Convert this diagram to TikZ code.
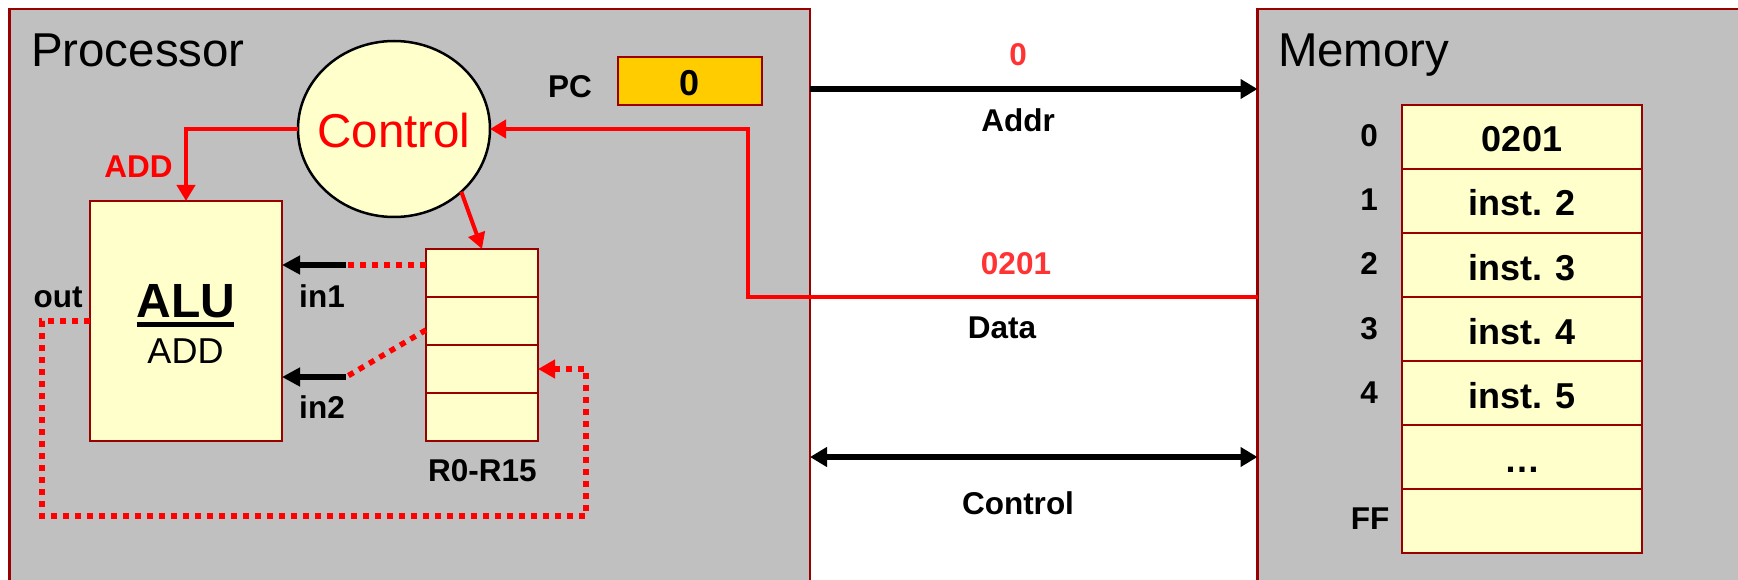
\documentclass[tikz,border=0pt]{standalone}
\usepackage{fontspec}
\setmainfont{Liberation Sans}
\usetikzlibrary{arrows.meta,shapes.geometric}
\definecolor{boxred}{HTML}{990000}
\definecolor{panel}{HTML}{C0C0C0}
\definecolor{cream}{HTML}{FFFFCC}
\definecolor{gold}{HTML}{FFCC00}
\definecolor{softred}{HTML}{FF3333}
\tikzset{
  x=1pt,y=-1pt,
  panelbox/.style={draw=boxred,line width=2.2pt,fill=panel,anchor=north west,inner sep=0,outer sep=0},
  cellbox/.style={draw=boxred,line width=2.7pt,fill=cream,anchor=north west,inner sep=0,outer sep=0},
  label/.style={anchor=base,inner sep=0,outer sep=0},
  big/.style={label,font=\fontsize{47.5}{50}\selectfont},
  mid/.style={label,font=\fontsize{36}{40}\selectfont\bfseries},
  small/.style={label,font=\fontsize{31.5}{34}\selectfont\bfseries},
  redwire/.style={draw=red,line width=4.5pt,-{Triangle[length=16pt,width=18pt]}},
  redwirethin/.style={draw=red,line width=4pt,-{Triangle[length=16pt,width=17pt]}},
  busline/.style={draw=black,line width=6pt},
  dots/.style={draw=red,line width=5.5pt,dash pattern=on 6pt off 6pt},
}
\begin{document}
\begin{tikzpicture}
\useasboundingbox (0,0) rectangle (1738,580);
\clip (0,0) rectangle (1738,580);
% panels
\node[panelbox,minimum width=800.5pt,minimum height=600pt] (proc) at (9.5,9) {};
\node[panelbox,minimum width=500pt,minimum height=600pt] (memp) at (1257.5,9) {};
\node[big] (proct) at (31,67) [anchor=base west] {Processor};
\node[big] (memt) at (1278,67) [anchor=base west] {Memory};
% ALU
\node[cellbox,minimum width=192pt,minimum height=240pt] (alu) at (90,201) {};
\node[big,font=\fontsize{48}{50}\selectfont\bfseries] (alut) at (186,317) {\rlap{\rule[-9.5pt]{97pt}{5pt}}ALU};
\node[label,font=\fontsize{36}{40}\selectfont] (aluop) at (185.5,363) {ADD};
% registers
\node[cellbox,minimum width=112pt,minimum height=48pt] (r1) at (426,249) {};
\node[cellbox,minimum width=112pt,minimum height=48pt] (r2) at (426,297) {};
\node[cellbox,minimum width=112pt,minimum height=48pt] (r3) at (426,345) {};
\node[cellbox,minimum width=112pt,minimum height=48pt] (r4) at (426,393) {};
\node[small] (regt) at (482.5,481.5) {R0-R15};
% control
\node[draw=black,line width=2.5pt,fill=cream,ellipse,minimum width=192pt,minimum height=176pt,inner sep=0,outer sep=0] (ctl) at (394,129) {};
\node[big,text=red] (ctlt) at (394,147.5) {Control};
% PC
\node[cellbox,fill=gold,minimum width=144pt,minimum height=48pt] (pc) at (618,57) {};
\node[mid] (pcv) at (690,96) {0};
\node[small] (pct) at (570,98) {PC};
% small labels
\node[small,text=red] (addt) at (138.5,178) {ADD};
\node[small] (in1t) at (322,307) {in1};
\node[small] (in2t) at (322,418) {in2};
\node[small] (outt) at (58,307) {out};
% memory cells
\foreach \n/\y in {0/105,1/169,2/233,3/297,4/361,5/425,6/489}
  \node[cellbox,minimum width=240pt,minimum height=64pt] (m\n) at (1402,\y) {};
\node[mid] (v0) at (1522,152) {0201};
\node[mid] (v1) at (1522,216) {inst. 2};
\node[mid] (v2) at (1522,280) {inst. 3};
\node[mid] (v3) at (1522,344) {inst. 4};
\node[mid] (v4) at (1522,408) {inst. 5};
\node[mid] (v5) at (1522,472) {…};
\node[small] (a0) at (1369,147) {0};
\node[small] (a1) at (1369,211) {1};
\node[small] (a2) at (1369,275) {2};
\node[small] (a3) at (1369,339) {3};
\node[small] (a4) at (1369,403) {4};
\node[small] (aff) at (1370,529) {FF};
% bus labels
\node[small,text=softred] (b0) at (1018,66) {0};
\node[small] (baddr) at (1018,132) {Addr};
\node[small,text=softred] (b1) at (1016,274) {0201};
\node[small] (bdata) at (1002,338) {Data};
\node[small] (bctl) at (1018,514) {Control};
% junction coordinates
\coordinate (addrL) at (810,89);
\coordinate (ctlL) at (810,457);
\coordinate (dataR) at (1257.5,297);
\coordinate (dataC) at (748,297);
\coordinate (in1j) at (346,265);
\coordinate (in2j) at (346,377);
\coordinate (in2s) at (426,330);
\coordinate (outL) at (42,321);
\coordinate (outB) at (42,516);
\coordinate (outR) at (586,516);
\coordinate (outU) at (586,369);
% wires
\draw[redwire] (ctl.west) -| (alu.north);
\draw[redwirethin] (ctl.-43) -- (r1.north);
\draw[redwire] (dataR) -- (dataC) |- (ctl.east);
% ALU inputs
\draw[dots] (in1j -| r1.west) -- (in1j);
\draw[dots] (in2s) -- (in2j);
\draw[busline,-{Triangle[length=18pt,width=18pt]}] (in1j) -- (in1j -| alu.east);
\draw[busline,-{Triangle[length=18pt,width=18pt]}] (in2j) -- (in2j -| alu.east);
% output loop
\draw[dots,-{Triangle[length=17pt,width=18pt]}] (alu.west |- outL) -- (outL) -- (outB) -- (outR) -- (outU) -- (outU -| r3.east);
% buses
\draw[busline,-{Triangle[length=17pt,width=19pt]}] (addrL) -- (addrL -| memp.west);
\draw[busline,{Triangle[length=17pt,width=19pt]}-{Triangle[length=17pt,width=19pt]}] (ctlL) -- (ctlL -| memp.west);
\end{tikzpicture}
\end{document}
